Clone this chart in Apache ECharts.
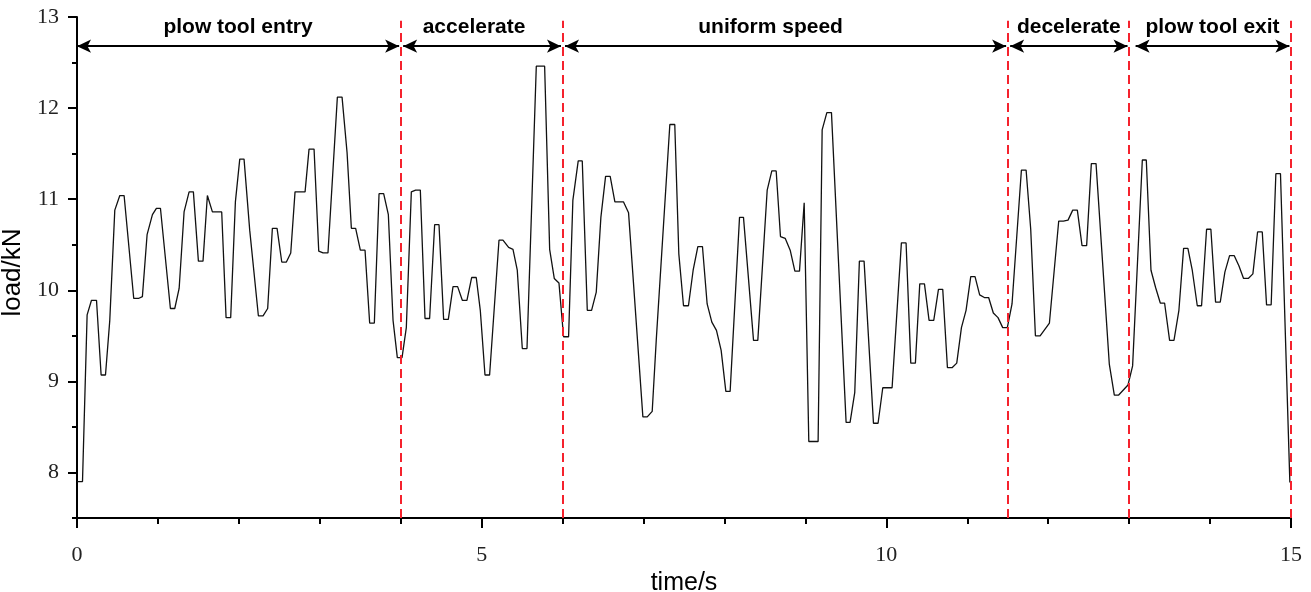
<!DOCTYPE html>
<html>
<head>
<meta charset="utf-8">
<script src="https://cdn.jsdelivr.net/npm/echarts@6/dist/echarts.min.js"></script>
<style>
  html, body { margin: 0; padding: 0; background: #fff; }
  #main { width: 1311px; height: 592px; }
</style>
</head>
<body>
<div id="main"></div>
<script>
// time (s) and load (kN)
const timeValues = [
  0.000, 0.068, 0.125, 0.179, 0.241, 0.298, 0.352, 0.405, 0.467, 0.529, 0.582, 0.701, 0.759, 0.808, 0.866, 0.932,
  0.981, 1.031, 1.154, 1.208, 1.262, 1.323, 1.385, 1.438, 1.500, 1.557, 1.611, 1.673, 1.788, 1.842, 1.899, 1.957,
  2.011, 2.064, 2.134, 2.241, 2.299, 2.356, 2.414, 2.472, 2.530, 2.587, 2.641, 2.694, 2.818, 2.867, 2.929, 2.987,
  3.040, 3.101, 3.217, 3.275, 3.337, 3.390, 3.443, 3.501, 3.559, 3.616, 3.674, 3.732, 3.789, 3.847, 3.905, 3.958,
  4.016, 4.069, 4.131, 4.184, 4.242, 4.300, 4.357, 4.419, 4.473, 4.530, 4.588, 4.646, 4.703, 4.761, 4.818, 4.876,
  4.933, 4.983, 5.041, 5.098, 5.214, 5.263, 5.333, 5.387, 5.440, 5.502, 5.560, 5.675, 5.778, 5.840, 5.897, 5.955,
  6.012, 6.074, 6.127, 6.193, 6.243, 6.305, 6.358, 6.416, 6.473, 6.531, 6.588, 6.646, 6.753, 6.815, 6.992, 7.046,
  7.107, 7.157, 7.325, 7.386, 7.436, 7.494, 7.555, 7.613, 7.671, 7.728, 7.786, 7.844, 7.901, 7.959, 8.017, 8.070,
  8.186, 8.235, 8.359, 8.412, 8.528, 8.585, 8.639, 8.692, 8.750, 8.812, 8.870, 8.927, 8.985, 9.042, 9.157, 9.207,
  9.265, 9.322, 9.503, 9.552, 9.610, 9.667, 9.725, 9.841, 9.898, 9.956, 10.071, 10.186, 10.244, 10.302, 10.359, 10.413,
  10.471, 10.528, 10.586, 10.644, 10.697, 10.755, 10.812, 10.870, 10.928, 10.985, 11.043, 11.096, 11.153, 11.211, 11.264, 11.322,
  11.380, 11.438, 11.495, 11.553, 11.669, 11.727, 11.784, 11.842, 11.900, 12.015, 12.130, 12.188, 12.245, 12.303, 12.360, 12.418,
  12.475, 12.533, 12.591, 12.755, 12.817, 12.871, 12.986, 13.043, 13.163, 13.212, 13.270, 13.327, 13.385, 13.438, 13.500, 13.554,
  13.615, 13.673, 13.726, 13.780, 13.842, 13.895, 13.957, 14.010, 14.068, 14.126, 14.183, 14.241, 14.299, 14.356, 14.414, 14.472,
  14.529, 14.587, 14.645, 14.698, 14.755, 14.813, 14.870, 14.986
];
const loadValues = [
  7.90, 7.90, 9.73, 9.89, 9.89, 9.07, 9.07, 9.67, 10.88, 11.04, 11.04, 9.91, 9.91, 9.93, 10.61, 10.83,
  10.90, 10.90, 9.80, 9.80, 10.02, 10.86, 11.08, 11.08, 10.32, 10.32, 11.04, 10.86, 10.86, 9.70, 9.70, 10.97,
  11.44, 11.44, 10.66, 9.72, 9.72, 9.80, 10.68, 10.68, 10.31, 10.31, 10.41, 11.08, 11.08, 11.55, 11.55, 10.43,
  10.41, 10.41, 12.12, 12.12, 11.51, 10.68, 10.68, 10.44, 10.44, 9.64, 9.64, 11.06, 11.06, 10.83, 9.67, 9.26,
  9.26, 9.59, 11.08, 11.10, 11.10, 9.69, 9.69, 10.72, 10.72, 9.68, 9.68, 10.04, 10.04, 9.89, 9.89, 10.14,
  10.14, 9.78, 9.07, 9.07, 10.55, 10.55, 10.47, 10.45, 10.22, 9.36, 9.36, 12.46, 12.46, 10.45, 10.13, 10.08,
  9.49, 9.49, 10.99, 11.42, 11.42, 9.78, 9.78, 9.98, 10.80, 11.25, 11.25, 10.97, 10.97, 10.85, 8.61, 8.61,
  8.67, 9.45, 11.82, 11.82, 10.40, 9.83, 9.83, 10.22, 10.48, 10.48, 9.85, 9.65, 9.56, 9.34, 8.89, 8.89,
  10.80, 10.80, 9.45, 9.45, 11.10, 11.31, 11.31, 10.59, 10.57, 10.44, 10.21, 10.21, 10.96, 8.34, 8.34, 11.76,
  11.95, 11.95, 8.55, 8.55, 8.88, 10.32, 10.32, 8.54, 8.54, 8.93, 8.93, 10.52, 10.52, 9.20, 9.20, 10.07,
  10.07, 9.67, 9.67, 10.01, 10.01, 9.15, 9.15, 9.20, 9.59, 9.78, 10.15, 10.15, 9.95, 9.92, 9.92, 9.75,
  9.70, 9.59, 9.59, 9.85, 11.32, 11.32, 10.67, 9.50, 9.50, 9.64, 10.76, 10.76, 10.77, 10.88, 10.88, 10.49,
  10.49, 11.39, 11.39, 9.19, 8.85, 8.85, 8.96, 9.17, 11.43, 11.43, 10.22, 10.03, 9.86, 9.86, 9.45, 9.45,
  9.78, 10.46, 10.46, 10.22, 9.83, 9.83, 10.67, 10.67, 9.87, 9.87, 10.20, 10.38, 10.38, 10.27, 10.13, 10.13,
  10.18, 10.64, 10.64, 9.84, 9.84, 11.28, 11.28, 7.89
];

// stage annotations
const phaseNames = ['plow tool entry', 'accelerate', 'uniform speed', 'decelerate', 'plow tool exit'];
const phaseStart = [0, 4.03, 6.03, 11.53, 13.08];
const phaseEnd = [3.98, 5.98, 11.48, 12.98, 14.98];
const phaseArrowLoad = 12.68;
const boundaryTimes = [4, 6, 11.5, 13, 15];
const boundaryTop = 12.96;

// axis ticks
const yTickValues = [8, 9, 10, 11, 12, 13];
const yMinorValues = [7.5, 8.5, 9.5, 10.5, 11.5, 12.5];

const chartDom = document.getElementById('main');
const myChart = echarts.init(chartDom);

const lineData = timeValues.map((t, i) => [t, loadValues[i]]);

// label nudges so the text sits where the original put it
const labelShift = [0, -8, -15, 0, 0];

const arrowLines = phaseNames.map((name, i) => [
  {
    name: name,
    coord: [phaseStart[i], phaseArrowLoad],
    label: { offset: [labelShift[i], 0] },
  },
  { coord: [phaseEnd[i], phaseArrowLoad] },
]);

const redLines = boundaryTimes.map((t) => [
  { coord: [t, 7.5] },
  { coord: [t, boundaryTop] },
]);

const option = {
  animation: false,
  backgroundColor: '#fff',
  grid: {
    left: 77,
    right: 20,
    top: 17,
    bottom: 74,
    containLabel: false,
    outerBoundsMode: 'none',
  },
  xAxis: {
    type: 'value',
    min: 0,
    max: 15,
    interval: 5,
    name: 'time/s',
    nameLocation: 'middle',
    nameGap: 51,
    nameTextStyle: {
      fontFamily: 'Liberation Sans',
      fontSize: 25,
      color: '#000',
    },
    axisLine: { show: true, onZero: false, lineStyle: { color: '#000', width: 2 } },
    axisTick: { show: true, length: 10, lineStyle: { color: '#000', width: 2 } },
    minorTick: { show: true, splitNumber: 5, length: 6, lineStyle: { color: '#000', width: 2 } },
    axisLabel: {
      margin: 26,
      fontFamily: 'Liberation Serif',
      fontSize: 22,
      color: '#222',
    },
    splitLine: { show: false },
  },
  yAxis: [
    {
      type: 'value',
      min: 7.5,
      max: 13,
      name: 'load/kN',
      nameLocation: 'middle',
      nameGap: 46,
      nameTextStyle: {
        fontFamily: 'Liberation Sans',
        fontSize: 26,
        color: '#000',
        padding: [0, 10, 0, 0],
      },
      axisLine: { show: true, onZero: false, lineStyle: { color: '#000', width: 2 } },
      axisTick: {
        show: true,
        length: 9,
        customValues: yTickValues,
        lineStyle: { color: '#000', width: 2 },
      },
      axisLabel: {
        margin: 18,
        customValues: yTickValues,
        fontFamily: 'Liberation Serif',
        fontSize: 22,
        color: '#222',
      },
      splitLine: { show: false },
    },
    {
      type: 'value',
      min: 7.5,
      max: 13,
      position: 'left',
      axisLine: { show: false },
      axisTick: {
        show: true,
        length: 5,
        customValues: yMinorValues,
        lineStyle: { color: '#000', width: 2 },
      },
      axisLabel: { show: false },
      splitLine: { show: false },
    },
  ],
  series: [
    {
      name: 'load',
      type: 'line',
      data: lineData,
      showSymbol: false,
      symbol: 'none',
      lineStyle: { color: '#111', width: 1.3 },
      z: 3,
    },
    {
      name: 'boundaries',
      type: 'line',
      data: [],
      markLine: {
        silent: true,
        symbol: ['none', 'none'],
        label: { show: false },
        lineStyle: { color: '#f5222d', width: 2, type: [9, 5] },
        data: redLines,
      },
      z: 2,
    },
    {
      name: 'phases',
      type: 'line',
      data: [],
      markLine: {
        silent: true,
        symbol: ['arrow', 'arrow'],
        symbolSize: [10, 14],
        lineStyle: { color: '#000', width: 2, type: 'solid' },
        label: {
          show: true,
          position: 'insideMiddleTop',
          distance: 8,
          formatter: '{b}',
          fontFamily: 'Liberation Sans',
          fontWeight: 'bold',
          fontSize: 21,
          color: '#000',
        },
        data: arrowLines,
      },
      z: 4,
    },
  ],
};

myChart.setOption(option);
</script>
</body>
</html>
